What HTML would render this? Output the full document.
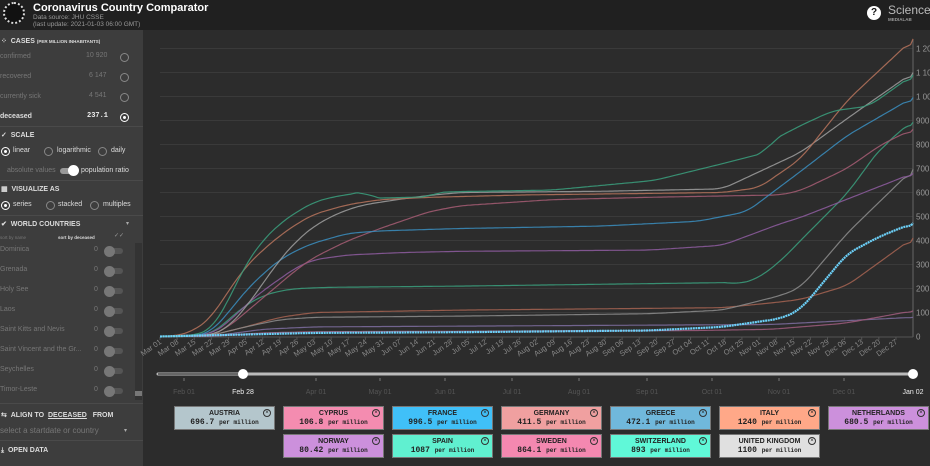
<!DOCTYPE html>
<html><head><meta charset="utf-8">
<style>
*{margin:0;padding:0;box-sizing:border-box}
body{width:930px;height:466px;overflow:hidden;background:#2c2c2c;font-family:"Liberation Sans",sans-serif;position:relative}
.hdr{position:absolute;left:0;top:0;width:930px;height:30px;background:#202020}
.abs{position:absolute;white-space:nowrap}
.lp{position:absolute;left:0;top:30px;width:143px;height:436px;background:#3d3d3d}
.sep{position:absolute;left:0;width:143px;height:1px;background:#4a4a4a}
.rad{position:absolute;width:9px;height:9px;border:1.3px solid #888;border-radius:50%}
.rad.on{border-color:#fff}
.rad.on::after{content:"";position:absolute;left:1.5px;top:1.5px;width:3.5px;height:3.5px;border-radius:50%;background:#fff}
.t{font-size:7px;color:#777}
.w{font-size:7px;color:#ddd;font-weight:bold}
.sw{position:absolute;width:18px;height:6px;border-radius:3px;background:#555}
.sw::after{content:"";position:absolute;left:-1px;top:-2.5px;width:11px;height:11px;border-radius:50%;background:#777}
.card{position:absolute;width:101px;height:24px;border:1px solid #777;text-align:center;color:#222}
.card b{display:block;font-size:7px;margin-top:3px}
.card span{display:block;font-family:"Liberation Mono",monospace;font-weight:bold;font-size:8px;margin-top:1px}
.card span small{font-size:6px}
.card i{position:absolute;right:3px;top:2px;width:8px;height:8px;border:1px solid #333;border-radius:50%;font-style:normal;font-size:6px;line-height:6px}
</style></head><body>
<div class="hdr"></div>
<div class="abs" style="left:3px;top:2px;width:22px;height:22px;border-radius:50%;border:2px dotted #ddd;background:#111"></div>
<div class="abs" style="left:33px;top:2px;font-size:11px;font-weight:bold;color:#fff">Coronavirus Country Comparator</div>
<div class="abs" style="left:33px;top:14px;font-size:6.5px;color:#999">Data source: JHU CSSE</div>
<div class="abs" style="left:33px;top:21px;font-size:6.5px;color:#999">(last update: 2021-01-03 06:00 GMT)</div>
<div class="abs" style="left:867px;top:6px;width:14px;height:14px;border-radius:50%;background:#fff;color:#111;font-size:10px;font-weight:bold;text-align:center;line-height:14px">?</div>
<div class="abs" style="left:888px;top:3px;font-size:12px;color:#bbb">Science</div>
<div class="abs" style="left:888px;top:17px;font-size:4.5px;color:#999;font-weight:bold">MEDIALAB</div>

<div class="lp"></div>
<div class="abs w" style="left:1px;top:37px">⁘ &nbsp;CASES <span style="font-size:4.5px">(PER MILLION INHABITANTS)</span></div>
<div class="abs t" style="left:0;top:53px">confirmed</div><div class="abs t" style="left:86px;top:52px">10 920</div><div class="rad" style="left:120px;top:53px"></div>
<div class="abs t" style="left:0;top:73px">recovered</div><div class="abs t" style="left:89px;top:72px">6 147</div><div class="rad" style="left:120px;top:73px"></div>
<div class="abs t" style="left:0;top:93px">currently sick</div><div class="abs t" style="left:89px;top:92px">4 541</div><div class="rad" style="left:120px;top:93px"></div>
<div class="abs w" style="left:0;top:113px">deceased</div><div class="abs" style="left:87px;top:112px;font-size:7px;color:#eee;font-family:'Liberation Mono',monospace;font-weight:bold">237.1</div><div class="rad on" style="left:120px;top:113px"></div>
<div class="sep" style="top:126px"></div>
<div class="abs w" style="left:1px;top:131px">✓ &nbsp;SCALE</div>
<div class="rad on" style="left:1px;top:147px"></div><div class="abs w" style="left:13px;top:147px;font-weight:normal">linear</div>
<div class="rad" style="left:44px;top:147px"></div><div class="abs w" style="left:57px;top:147px;font-weight:normal">logarithmic</div>
<div class="rad" style="left:98px;top:147px"></div><div class="abs w" style="left:111px;top:147px;font-weight:normal">daily</div>
<div class="abs t" style="left:7px;top:167px">absolute values</div>
<div class="abs" style="left:60px;top:168px;width:16px;height:6px;border-radius:3px;background:#999"></div>
<div class="abs" style="left:68px;top:165px;width:11px;height:11px;border-radius:50%;background:#fff"></div>
<div class="abs w" style="left:81px;top:167px;font-weight:normal">population ratio</div>
<div class="sep" style="top:180px"></div>
<div class="abs w" style="left:1px;top:185px">▦ &nbsp;VISUALIZE AS</div>
<div class="rad on" style="left:1px;top:201px"></div><div class="abs w" style="left:13px;top:201px;font-weight:normal">series</div>
<div class="rad" style="left:46px;top:201px"></div><div class="abs w" style="left:58px;top:201px;font-weight:normal">stacked</div>
<div class="rad" style="left:90px;top:201px"></div><div class="abs w" style="left:103px;top:201px;font-weight:normal">multiples</div>
<div class="sep" style="top:215px"></div>
<div class="abs w" style="left:1px;top:220px">✔ &nbsp;WORLD COUNTRIES</div><div class="abs" style="left:126px;top:220px;font-size:6px;color:#aaa">▾</div>
<div class="abs" style="left:0;top:235px;font-size:4.5px;color:#777">sort by name</div>
<div class="abs" style="left:58px;top:235px;font-size:4.5px;color:#ddd;font-weight:bold">sort by deceased</div>
<div class="abs" style="left:114px;top:232px;font-size:6px;color:#999">✓✓</div>
<div class="abs" style="left:135px;top:243px;width:7px;height:157px;background:#333"></div>
<div class="abs" style="left:135px;top:391px;width:7px;height:5px;background:#777"></div>
<div class="abs t" style="left:0;top:246px">Dominica</div><div class="abs t" style="left:94px;top:246px">0</div><div class="sw" style="left:105px;top:248px"></div>
<div class="abs t" style="left:0;top:266px">Grenada</div><div class="abs t" style="left:94px;top:266px">0</div><div class="sw" style="left:105px;top:268px"></div>
<div class="abs t" style="left:0;top:286px">Holy See</div><div class="abs t" style="left:94px;top:286px">0</div><div class="sw" style="left:105px;top:288px"></div>
<div class="abs t" style="left:0;top:306px">Laos</div><div class="abs t" style="left:94px;top:306px">0</div><div class="sw" style="left:105px;top:308px"></div>
<div class="abs t" style="left:0;top:326px">Saint Kitts and Nevis</div><div class="abs t" style="left:94px;top:326px">0</div><div class="sw" style="left:105px;top:328px"></div>
<div class="abs t" style="left:0;top:346px">Saint Vincent and the Gr...</div><div class="abs t" style="left:94px;top:346px">0</div><div class="sw" style="left:105px;top:348px"></div>
<div class="abs t" style="left:0;top:366px">Seychelles</div><div class="abs t" style="left:94px;top:366px">0</div><div class="sw" style="left:105px;top:368px"></div>
<div class="abs t" style="left:0;top:386px">Timor-Leste</div><div class="abs t" style="left:94px;top:386px">0</div><div class="sw" style="left:105px;top:388px"></div>
<div class="sep" style="top:403px"></div>
<div class="abs w" style="left:1px;top:411px">⇆ &nbsp;ALIGN TO &nbsp;<u>DECEASED</u> &nbsp;&nbsp;FROM</div>
<div class="abs" style="left:0;top:426px;font-size:8px;color:#777">select a startdate or country</div><div class="abs" style="left:124px;top:427px;font-size:6px;color:#aaa">▾</div>
<div class="sep" style="top:440px"></div>
<div class="abs w" style="left:1px;top:447px">⤓ &nbsp;OPEN DATA</div>

<svg id="c" class="abs" style="left:0;top:0" width="930" height="466"></svg>
<script>
const NS="http://www.w3.org/2000/svg",svg=document.getElementById('c');
function el(t,a,txt){const e=document.createElementNS(NS,t);for(const k in a)e.setAttribute(k,a[k]);if(txt!=null)e.textContent=txt;svg.appendChild(e);return e}
const X=d=>160+d*2.445,Y=v=>336.5-v*0.24;
for(let v=100;v<=1200;v+=100)el('line',{x1:160,x2:913,y1:Y(v),y2:Y(v),stroke:'#3a3a3a','stroke-width':1});
el('line',{x1:913,x2:913,y1:40,y2:337,stroke:'#666'});
el('line',{x1:160,x2:913,y1:337,y2:337,stroke:'#555'});
for(let v=0;v<=1200;v+=100)el('text',{x:916,y:Y(v)+3,'font-size':8,fill:'#999','font-family':'Liberation Sans'},v>=1000?'1 '+String(v).slice(1):v);
const lab=['Mar 01','Mar 08','Mar 15','Mar 22','Mar 29','Apr 05','Apr 12','Apr 19','Apr 26','May 03','May 10','May 17','May 24','May 31','Jun 07','Jun 14','Jun 21','Jun 28','Jul 05','Jul 12','Jul 19','Jul 26','Aug 02','Aug 09','Aug 16','Aug 23','Aug 30','Sep 06','Sep 13','Sep 20','Sep 27','Oct 04','Oct 11','Oct 18','Oct 25','Nov 01','Nov 08','Nov 15','Nov 22','Nov 29','Dec 06','Dec 13','Dec 20','Dec 27'];
lab.forEach((l,i)=>{const x=X(i*7);el('line',{x1:x,x2:x,y1:337,y2:340,stroke:'#555'});el('text',{x:x+2,y:343,'font-size':7.5,fill:'#888','text-anchor':'end','font-family':'Liberation Sans',transform:`rotate(-35 ${x+2} 343)`},l)});
const S=[
['#7a6a9a',[[0,0],[21,1],[42,30],[63,40],[250,50],[308,80]],1.2],
['#9a5a7a',[[0,0],[21,1],[42,15],[63,20],[220,25],[250,30],[280,55],[308,107]],1.2],
['#a06050',[[0,0],[21,5],[35,40],[49,80],[63,100],[123,110],[230,120],[250,140],[262,154],[281,212],[308,411]],1.2],
['#888888',[[0,0],[21,5],[35,40],[49,70],[63,80],[123,85],[200,95],[230,110],[254,171],[262,204],[281,430],[308,697]],1.2],
['#3a9a7a',[[0,0],[21,10],[28,70],[35,130],[42,170],[49,190],[56,200],[70,205],[123,210],[235,225],[236,215],[245,245],[254,316],[262,400],[281,595],[295,790],[300,820],[302,860],[308,893]],1.2],
['#8a5a9a',[[0,0],[21,10],[28,60],[35,130],[42,190],[49,240],[56,290],[63,320],[77,340],[100,350],[123,355],[200,360],[230,380],[254,471],[262,496],[308,680]],1.2],
['#a05a70',[[0,0],[21,5],[28,40],[35,100],[42,160],[49,220],[56,280],[63,330],[77,400],[90,450],[110,520],[123,545],[160,570],[200,580],[254,590],[262,608],[281,700],[295,800],[308,864]],1.2],
['#3a8ab8',[[0,0],[14,2],[21,20],[28,100],[35,190],[42,260],[49,320],[56,360],[63,390],[70,410],[77,430],[90,440],[123,450],[180,460],[220,480],[240,520],[262,688],[281,837],[308,996]],1.2],
['#999999',[[0,0],[21,5],[28,40],[35,120],[42,220],[49,320],[56,400],[63,460],[70,500],[77,530],[84,550],[100,575],[112,590],[123,600],[180,605],[230,615],[262,767],[281,908],[308,1100]],1.2],
['#b0705a',[[0,0],[7,3],[14,25],[21,80],[28,190],[35,290],[42,360],[49,420],[56,470],[63,510],[77,550],[90,570],[110,580],[150,590],[230,600],[245,620],[262,740],[281,983],[308,1240]],1.2],
['#3a9a7a',[[0,0],[14,5],[21,30],[28,150],[35,300],[42,400],[49,470],[56,520],[63,560],[70,580],[82,600],[84,612],[86,576],[111,582],[112,600],[123,604],[160,610],[202,650],[230,720],[248,767],[250,815],[262,879],[275,940],[290,960],[308,1090]],1.2],
['#6cd0f8',[[0,0],[63,15],[123,18],[200,25],[230,40],[254,75],[262,112],[281,345],[295,420],[308,472]],2.2]
];
function interp(k,d){for(let i=1;i<k.length;i++)if(d<=k[i][0]){const a=k[i-1],b=k[i],t=(d-a[0])/(b[0]-a[0]||1);return a[1]+(b[1]-a[1])*t}return k[k.length-1][1]}
S.forEach(([c,k,w])=>{let raw=[];for(let d=0;d<=308;d++)raw.push(interp(k,d));let sm=raw.map((v,i)=>{let s=0,n=0;for(let j=-4;j<=4;j++){const q=raw[i+j];if(q!=null){s+=q;n++}}return s/n});
sm[0]=0;sm[308]=raw[308];el('polyline',{points:sm.map((v,d)=>X(d).toFixed(1)+','+Y(v).toFixed(1)).join(' '),fill:'none',stroke:c,'stroke-width':w,opacity:w>2?1:0.9,'stroke-dasharray':w>2?'2 0.6':'none'})});
el('line',{x1:158,x2:913,y1:374,y2:374,stroke:'#bbb','stroke-width':3,'stroke-linecap':'round'});
el('line',{x1:158,x2:243,y1:374,y2:374,stroke:'#666','stroke-width':2});
const mo=[['Feb 01',184],['Apr 01',316],['May 01',380],['Jun 01',445],['Jul 01',512],['Aug 01',579],['Sep 01',647],['Oct 01',712],['Nov 01',779],['Dec 01',844]];
mo.forEach(([l,x])=>{el('line',{x1:x,x2:x,y1:378,y2:381,stroke:'#777'});el('text',{x:x,y:394,'font-size':7,fill:'#555','text-anchor':'middle','font-family':'Liberation Sans'},l)});
el('text',{x:243,y:394,'font-size':7,fill:'#eee','text-anchor':'middle','font-family':'Liberation Sans'},'Feb 28');
el('text',{x:913,y:394,'font-size':7,fill:'#eee','text-anchor':'middle','font-family':'Liberation Sans'},'Jan 02');
el('circle',{cx:243,cy:374,r:5,fill:'#fff'});el('circle',{cx:913,cy:374,r:5,fill:'#fff'});
</script>
<div class="card" style="left:174px;top:406px;background:#b4c6cc"><b>AUSTRIA</b><span>696.7 <small>per million</small></span><i>×</i></div>
<div class="card" style="left:283px;top:406px;background:#f48cb0"><b>CYPRUS</b><span>106.8 <small>per million</small></span><i>×</i></div>
<div class="card" style="left:392px;top:406px;background:#40c0f8"><b>FRANCE</b><span>996.5 <small>per million</small></span><i>×</i></div>
<div class="card" style="left:501px;top:406px;background:#f0a0a0"><b>GERMANY</b><span>411.5 <small>per million</small></span><i>×</i></div>
<div class="card" style="left:610px;top:406px;background:#70b8dc"><b>GREECE</b><span>472.1 <small>per million</small></span><i>×</i></div>
<div class="card" style="left:719px;top:406px;background:#ffa888"><b>ITALY</b><span>1240 <small>per million</small></span><i>×</i></div>
<div class="card" style="left:828px;top:406px;background:#cc90dc"><b>NETHERLANDS</b><span>680.5 <small>per million</small></span><i>×</i></div>
<div class="card" style="left:283px;top:434px;background:#cc90dc"><b>NORWAY</b><span>80.42 <small>per million</small></span><i>×</i></div>
<div class="card" style="left:392px;top:434px;background:#60f0d0"><b>SPAIN</b><span>1087 <small>per million</small></span><i>×</i></div>
<div class="card" style="left:501px;top:434px;background:#f488b0"><b>SWEDEN</b><span>864.1 <small>per million</small></span><i>×</i></div>
<div class="card" style="left:610px;top:434px;background:#60f8d8"><b>SWITZERLAND</b><span>893 <small>per million</small></span><i>×</i></div>
<div class="card" style="left:719px;top:434px;background:#e0e0e0"><b>UNITED KINGDOM</b><span>1100 <small>per million</small></span><i>×</i></div>
</body></html>
